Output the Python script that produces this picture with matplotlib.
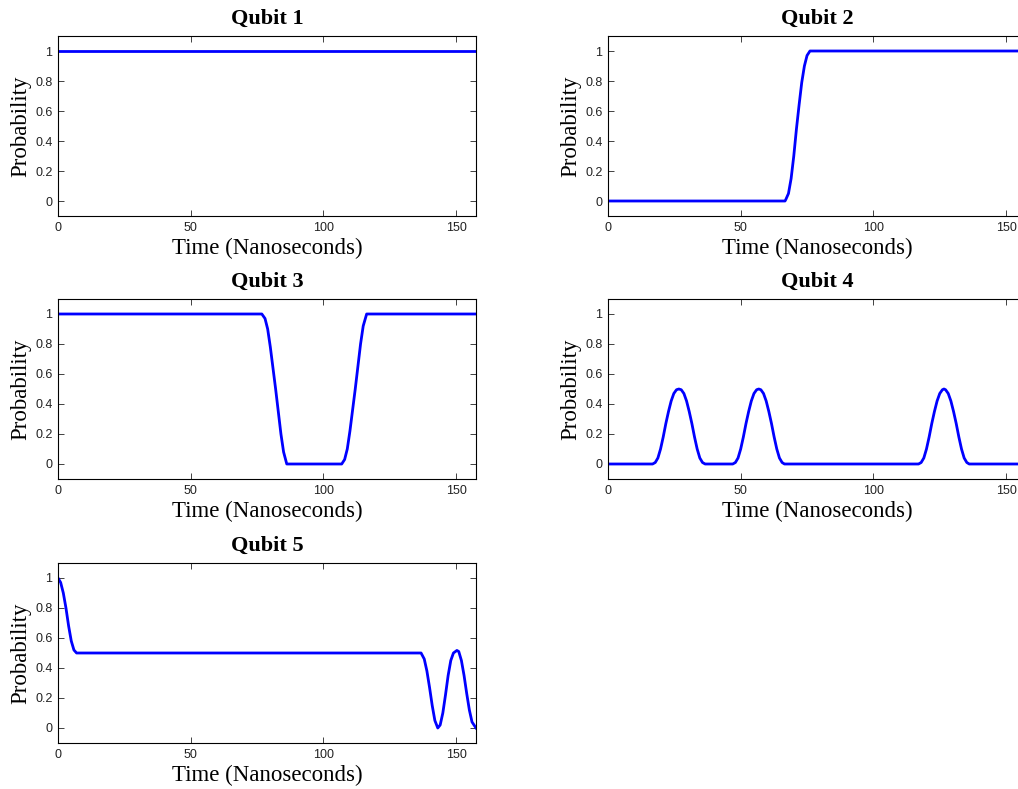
import matplotlib
matplotlib.use("Agg")
import matplotlib.pyplot as plt

plt.rcParams['font.family'] = 'Liberation Serif'

# Qubit 1 - stays at 1
t1 = [0, 157.5]
p1 = [1, 1]

# Qubit 2 - flips from 0 to 1 around 71 ns
t2 = [0, 66.7, 67, 68, 69, 70, 71, 72, 73, 74, 75, 76.1, 157.5]
p2 = [0, 0, 0.01, 0.05, 0.15, 0.3, 0.48, 0.64, 0.79, 0.9, 0.97, 1, 1]

# Qubit 3 - drops to 0 and comes back
t3 = [0, 76.8, 78, 79, 80, 81, 82, 83, 84, 85, 86.2,
      106.9, 108, 109, 110, 111, 112, 113, 114, 115, 116.3, 157.5]
p3 = [1, 1, 0.97, 0.9, 0.78, 0.64, 0.5, 0.35, 0.2, 0.08, 0,
      0, 0.03, 0.1, 0.22, 0.36, 0.5, 0.65, 0.8, 0.92, 1, 1]

# Qubit 4 - three bumps of height 0.5
t4 = [0, 16.8, 17.8, 18.8, 19.8, 20.8, 21.8, 22.8, 23.8, 24.8, 25.8, 26.7,
      27.6, 28.6, 29.6, 30.6, 31.6, 32.6, 33.6, 34.6, 35.6, 36.6,
      47.0, 48.0, 49.0, 50.0, 51.0, 52.0, 53.0, 54.0, 55.0, 56.0, 56.8,
      57.6, 58.6, 59.6, 60.6, 61.6, 62.6, 63.6, 64.6, 65.6, 66.5,
      117.0, 118.0, 119.0, 120.0, 121.0, 122.0, 123.0, 124.0, 125.0, 126.0, 126.6,
      127.2, 128.2, 129.2, 130.2, 131.2, 132.2, 133.2, 134.2, 135.2, 136.1, 157.5]
p4 = [0, 0, 0.01, 0.04, 0.1, 0.18, 0.27, 0.35, 0.42, 0.47, 0.495, 0.5,
      0.495, 0.47, 0.42, 0.35, 0.27, 0.18, 0.1, 0.04, 0.01, 0,
      0, 0.01, 0.04, 0.1, 0.18, 0.27, 0.35, 0.42, 0.47, 0.495, 0.5,
      0.495, 0.47, 0.42, 0.35, 0.27, 0.18, 0.1, 0.04, 0.01, 0,
      0, 0.01, 0.04, 0.1, 0.18, 0.27, 0.35, 0.42, 0.47, 0.495, 0.5,
      0.495, 0.47, 0.42, 0.35, 0.27, 0.18, 0.1, 0.04, 0.01, 0, 0]

# Qubit 5 - fast drop to 0.5, then oscillation at the end
t5 = [0, 1, 2, 3, 4, 5, 6, 7, 136.8,
      138, 139, 140, 141, 142, 143.1, 144, 145, 146, 147, 148, 149, 150.3,
      151, 152, 153, 154, 155, 156, 157.5]
p5 = [1, 0.97, 0.9, 0.8, 0.68, 0.58, 0.52, 0.5, 0.5,
      0.46, 0.38, 0.27, 0.15, 0.05, 0, 0.02, 0.1, 0.22, 0.35, 0.45, 0.5, 0.517,
      0.51, 0.45, 0.35, 0.23, 0.12, 0.04, 0]

series = [(t1, p1), (t2, p2), (t3, p3), (t4, p4), (t5, p5)]
titles = ['Qubit 1', 'Qubit 2', 'Qubit 3', 'Qubit 4', 'Qubit 5']

W, H = 1018, 789
fig = plt.figure(figsize=(W / 100, H / 100), dpi=100)

lefts = [58, 608]
tops = [36, 299, 563]
aw, ah = 418, 180

for i, (t, p) in enumerate(series):
    row, col = divmod(i, 2)
    ax = fig.add_axes([lefts[col] / W, (H - tops[row] - ah) / H, aw / W, ah / H])
    ax.plot(t, p, color='#0000ff', lw=2)
    ax.set_xlim(0, 157.5)
    ax.set_ylim(-0.1, 1.1)
    ax.set_xticks([0, 50, 100, 150])
    ax.set_yticks([0, 0.2, 0.4, 0.6, 0.8, 1])
    ax.set_yticklabels(['0', '0.2', '0.4', '0.6', '0.8', '1'])
    ax.tick_params(direction='in', length=4, width=0.6, top=True, right=True,
                   labelsize=9, pad=4, colors='#222222')
    for lab in ax.get_xticklabels() + ax.get_yticklabels():
        lab.set_family('Liberation Sans')
    for s in ax.spines.values():
        s.set_linewidth(0.8)
    ax.set_title(titles[i], fontsize=16, fontweight='bold', pad=9)
    ax.set_xlabel('Time (Nanoseconds)', fontsize=16.5, labelpad=3)
    ax.set_ylabel('Probability', fontsize=16.5, labelpad=3)

fig.savefig('out.png', dpi=100)
